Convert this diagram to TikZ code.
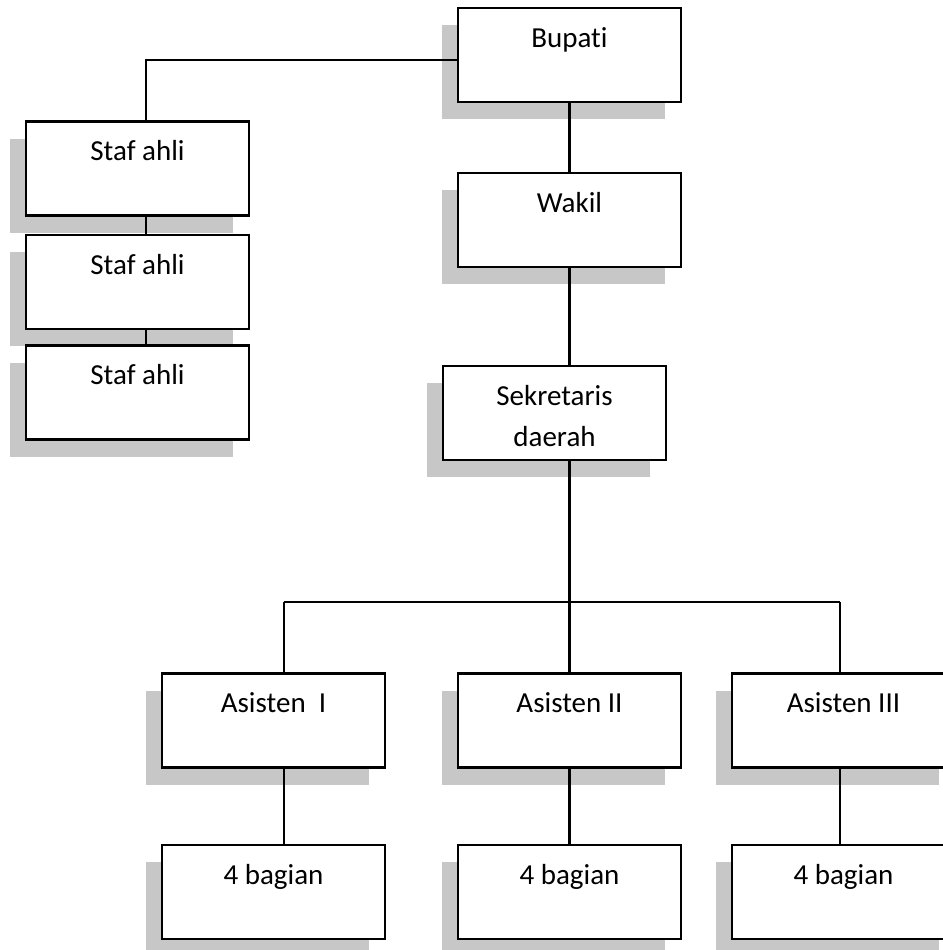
\documentclass[tikz,border=0pt]{standalone}
\usepackage{fontspec}
\setmainfont{Carlito}[Ligatures=NoCommon]
\usetikzlibrary{shadows}

\tikzset{
  kotak/.style={draw, fill=white, line width=1.3pt, inner sep=0pt,
    minimum width=111.5pt, text height=19.5pt, text depth=27.5pt,
    font=\fontsize{14.5}{20.5}\selectfont, align=center,
    drop shadow={shadow xshift=-8pt, shadow yshift=-8.5pt, fill=black!22, opacity=1}},
  garis/.style={line width=1.2pt}
}

\begin{document}
\begin{tikzpicture}[x=0.5pt,y=-0.5pt]
    \useasboundingbox (0,0) rectangle (943,950);
    \clip (0,0) rectangle (943,950);
    \node[kotak,at={(569.5,55)}] (bupati) {Bupati};
    \node[kotak,at={(569.5,220)}] (wakil) {Wakil};
    \node[kotak,at={(554.5,413)},text height=40pt,text depth=7pt] (sekda) {Sekretaris\\daerah};
    \node[kotak,at={(137.5,168.5)}] (staf1) {Staf ahli};
    \node[kotak,at={(137.5,282)}] (staf2) {Staf ahli};
    \node[kotak,at={(137.5,392.5)}] (staf3) {Staf ahli};
    \node[kotak,at={(273.5,720.5)}] (asisten1) {Asisten~~I};
    \node[kotak,at={(569.5,720.5)}] (asisten2) {Asisten II};
    \node[kotak,at={(843.5,720.5)}] (asisten3) {Asisten III};
    \node[kotak,at={(273.5,892)}] (bagian1) {4 bagian};
    \node[kotak,at={(569.5,892)}] (bagian2) {4 bagian};
    \node[kotak,at={(843.5,892)}] (bagian3) {4 bagian};
    % garis staf ahli
    \coordinate (s) at (146,60);
    \draw[garis] (bupati.west |- s) -- (s) -- (s |- staf1.north);
    \draw[garis] (staf1.south -| s) -- (staf2.north -| s);
    \draw[garis] (staf2.south -| s) -- (staf3.north -| s);
    % garis utama
    \draw[garis] (bupati.south) -- (wakil.north);
    \draw[garis] (wakil.south) -- (wakil.south |- sekda.north);
    \coordinate (b1) at (284,602);
    \coordinate (b2) at (569.5,602);
    \coordinate (b3) at (840,602);
    \draw[garis] (sekda.south -| b2) -- (b2);
    \draw[garis] (b1) -- (b3);
    \foreach \i in {1,2,3}{
    \draw[garis] (b\i) -- (b\i |- asisten\i.north);
    \draw[garis] (asisten\i.south -| b\i) -- (bagian\i.north -| b\i);
    }
\end{tikzpicture}
\end{document}
